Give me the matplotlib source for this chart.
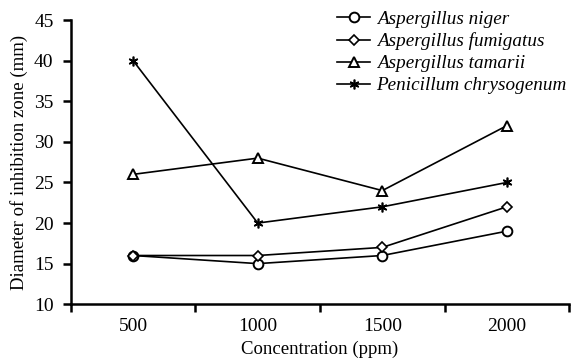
import matplotlib
matplotlib.use('Agg')
import matplotlib.pyplot as plt
import numpy as np

plt.rcParams['font.family'] = ['Liberation Serif', 'DejaVu Serif']

concentrations = ['500', '1000', '1500', '2000']
niger = [16, 15, 16, 19]
fumigatus = [16, 16, 17, 22]
tamarii = [26, 28, 24, 32]
penicillium = [40, 20, 22, 25]
yticks = [10, 15, 20, 25, 30, 35, 40, 45]

fig = plt.figure(figsize=(5.72, 3.6), dpi=100)
ax = fig.add_axes([0.124, 0.155, 0.871, 0.789])

x = np.arange(len(concentrations))
ax.plot(x, niger, color='black', lw=1.2, marker='o', ms=7, mfc='white', mec='black', mew=1.4, label='Aspergillus niger')
ax.plot(x, fumigatus, color='black', lw=1.2, marker='D', ms=5, mfc='white', mec='black', mew=1.2, label='Aspergillus fumigatus')
ax.plot(x, tamarii, color='black', lw=1.2, marker='^', ms=7, mfc='white', mec='black', mew=1.4, label='Aspergillus tamarii')
ax.plot(x, penicillium, color='black', lw=1.2, marker=(6, 2, 0), ms=7, mec='black', mew=1.2, label='Penicillum chrysogenum')

ax.set_xlim(-0.5, 3.5)
ax.set_ylim(10, 45)
ax.set_yticks(yticks)
ax.set_xticks(x)
ax.set_xticklabels(concentrations)
ax.set_xticks(np.arange(-0.5, 4.0, 1.0), minor=True)
ax.tick_params(axis='x', which='major', length=0, labelsize=14, pad=10)
ax.tick_params(axis='x', which='minor', length=5.5, width=1.8, direction='out')
ax.tick_params(axis='y', length=5.5, width=1.8, labelsize=14, direction='out', pad=7)

for s in ['top', 'right']:
    ax.spines[s].set_visible(False)
for s in ['left', 'bottom']:
    ax.spines[s].set_linewidth(1.8)

ax.set_xlabel('Concentration (ppm)', fontsize=13.5, labelpad=4)
ax.set_ylabel('Diameter of inhibition zone (mm)', fontsize=13.5, labelpad=4)

leg = ax.legend(loc='upper left', bbox_to_anchor=(0.5, 1.095), frameon=False,
                prop={'style': 'italic', 'size': 13.8}, handlelength=1.7,
                handletextpad=0.35, labelspacing=0.24)

fig.savefig('out.png', dpi=100)
